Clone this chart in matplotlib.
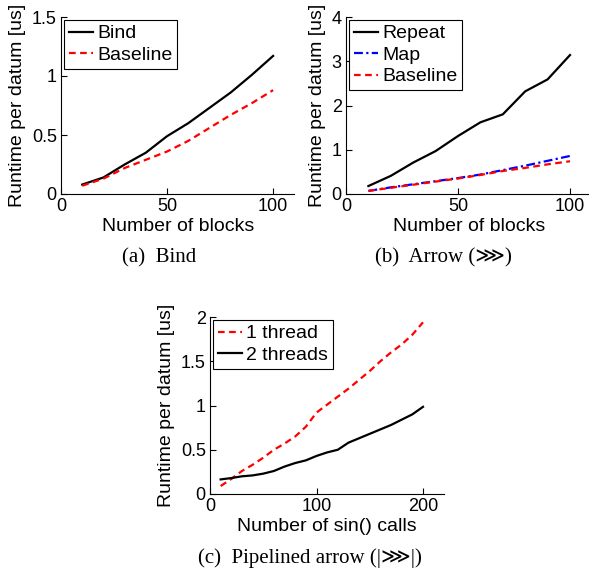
import matplotlib
matplotlib.use("Agg")
import matplotlib.pyplot as plt
from matplotlib.ticker import FuncFormatter

# ---- data ----
blocks = [10, 20, 30, 40, 50, 60, 70, 80, 90, 100]
bind_bind = [0.08, 0.14, 0.25, 0.35, 0.49, 0.60, 0.73, 0.86, 1.01, 1.17]
bind_baseline = [0.07, 0.13, 0.22, 0.29, 0.36, 0.45, 0.56, 0.67, 0.77, 0.88]

arrow_repeat = [0.18, 0.41, 0.71, 0.97, 1.31, 1.62, 1.80, 2.32, 2.59, 3.14]
arrow_map = [0.07, 0.15, 0.22, 0.29, 0.36, 0.44, 0.54, 0.64, 0.75, 0.86]
arrow_baseline = [0.07, 0.14, 0.21, 0.28, 0.35, 0.43, 0.52, 0.59, 0.67, 0.74]

sin_calls = [10, 20, 30, 40, 50, 60, 70, 80, 90, 100,
             110, 120, 130, 140, 150, 160, 170, 180, 190, 200]
one_thread = [0.09, 0.17, 0.26, 0.33, 0.41, 0.50, 0.57, 0.65, 0.76, 0.92,
              1.01, 1.10, 1.19, 1.29, 1.39, 1.50, 1.60, 1.69, 1.80, 1.94]
two_threads = [0.165, 0.18, 0.20, 0.21, 0.23, 0.26, 0.31, 0.35, 0.38, 0.43,
               0.47, 0.50, 0.58, 0.63, 0.68, 0.73, 0.78, 0.84, 0.90, 0.985]

yticks_a = [0, 0.5, 1, 1.5]
yticks_b = [0, 1, 2, 3, 4]
yticks_c = [0, 0.5, 1, 1.5, 2]
xticks_ab = [0, 50, 100]
xticks_c = [0, 100, 200]

W, H = 589, 573
fig = plt.figure(figsize=(W / 100, H / 100), dpi=100)

SANS = ['Liberation Sans', 'DejaVu Sans']
SERIF = ['Liberation Serif', 'DejaVu Serif', 'DejaVu Sans']
FS = 14
TFS = 13
CFS = 15

def px_axes(left, right, top, bottom):
    return fig.add_axes([left / W, (H - bottom) / H, (right - left) / W, (bottom - top) / H])

fmt = FuncFormatter(lambda v, p: ('%g' % v))

def style(ax, xlim, ylim, xt, yt, xlabel):
    ax.set_xlim(*xlim)
    ax.set_ylim(*ylim)
    ax.set_xticks(xt)
    ax.set_yticks(yt)
    ax.xaxis.set_major_formatter(fmt)
    ax.yaxis.set_major_formatter(fmt)
    for s in ['top', 'right']:
        ax.spines[s].set_visible(False)
    for s in ['left', 'bottom']:
        ax.spines[s].set_linewidth(0.8)
    ax.tick_params(direction='in', length=4, width=0.8, labelsize=TFS, pad=3)
    for lab in ax.get_xticklabels() + ax.get_yticklabels():
        lab.set_family(SANS)
    ax.set_xlabel(xlabel, fontsize=FS, family=SANS, labelpad=2)
    ax.set_ylabel('Runtime per datum [us]', fontsize=FS, family=SANS, labelpad=4)

def legend(ax):
    lg = ax.legend(loc='upper left', bbox_to_anchor=(0.0, 1.0), borderaxespad=0.15,
                   fancybox=False, edgecolor='black', framealpha=1,
                   prop={'family': SANS, 'size': FS}, handlelength=1.25,
                   handletextpad=0.2, borderpad=0.25, labelspacing=0.2)
    lg.get_frame().set_linewidth(0.8)

LW = 1.6
# (a)
ax1 = px_axes(61, 294.3, 17, 194)
ax1.plot(blocks, bind_bind, color='black', lw=LW, label='Bind')
ax1.plot(blocks, bind_baseline, color='red', lw=LW, ls=(0, (3, 2)), label='Baseline')
style(ax1, (0, 110), (0, 1.5), xticks_ab, yticks_a, 'Number of blocks')
legend(ax1)

# (b)
ax2 = px_axes(346, 592.4, 17, 194)
ax2.plot(blocks, arrow_repeat, color='black', lw=LW, label='Repeat')
ax2.plot(blocks, arrow_map, color='blue', lw=LW, ls=(0, (4, 1.5, 1, 1.5)), label='Map')
ax2.plot(blocks, arrow_baseline, color='red', lw=LW, ls=(0, (3, 2)), label='Baseline')
style(ax2, (0, 110), (0, 4), xticks_ab, yticks_b, 'Number of blocks')
legend(ax2)

# (c)
ax3 = px_axes(210, 444.3, 317, 494)
ax3.plot(sin_calls, one_thread, color='red', lw=LW, ls=(0, (3, 2)), label='1 thread')
ax3.plot(sin_calls, two_threads, color='black', lw=LW, label='2 threads')
style(ax3, (0, 220), (0, 2), xticks_c, yticks_c, 'Number of sin() calls')
legend(ax3)

fig.text(159 / W, 1 - 258 / H, '(a)  Bind', ha='center', va='center', fontsize=CFS, family=SERIF)
fig.text(443 / W, 1 - 258 / H, '(b)  Arrow (\u22d9)', ha='center', va='center', fontsize=CFS, family=SERIF)
fig.text(310 / W, 1 - 558 / H, '(c)  Pipelined arrow (|\u22d9|)', ha='center', va='center', fontsize=CFS, family=SERIF)

fig.savefig('out.png', dpi=100)
